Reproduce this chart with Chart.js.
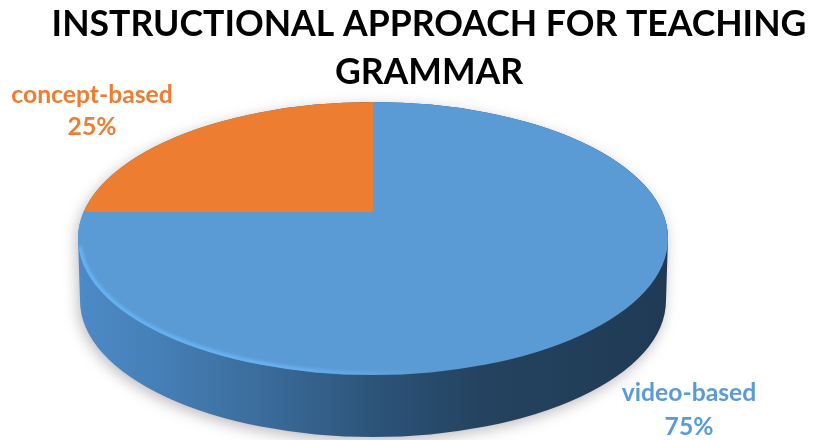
<!DOCTYPE html>
<html>
<head>
<meta charset="utf-8">
<style>html,body{margin:0;padding:0;background:#fff}#w{width:822px;height:440px;position:relative}</style>
<script src="https://cdn.jsdelivr.net/npm/chart.js@4"></script>
</head>
<body>
<div id="w"><canvas id="c" width="822" height="440"></canvas></div>
<script>
const titleLines = ["INSTRUCTIONAL APPROACH FOR TEACHING", "GRAMMAR"];
const categories = ["video-based", "concept-based"];
const seriesValues = [75, 25];
const sliceColors = ["#5b9bd5", "#ed7d31"];

const APEX = {x: 373, y: 212};
const TOP = {x: 373, y: 238.5, rx: 295, ry: 136.5};
const DEPTH = 62;
const LABEL_POS = [{x: 689, y1: 393, y2: 427}, {x: 92, y1: 95, y2: 127}];
const FONT = "Lato, Carlito, 'Open Sans', sans-serif";

const pie3d = {
  id: 'pie3d',
  beforeDatasetsDraw(chart) {
    const ctx = chart.ctx;
    // soft shadow and the side wall
    ctx.save();
    ctx.shadowColor = 'rgba(90,80,90,0.38)';
    ctx.shadowBlur = 14;
    ctx.shadowOffsetX = -2;
    ctx.shadowOffsetY = 4;
    const g = ctx.createLinearGradient(TOP.x - TOP.rx, 0, TOP.x + TOP.rx, 0);
    g.addColorStop(0, '#4d8ac6');
    g.addColorStop(0.14, '#457fb6');
    g.addColorStop(0.32, '#3a6b9a');
    g.addColorStop(0.5, '#2c5479');
    g.addColorStop(0.68, '#244360');
    g.addColorStop(1, '#203a54');
    ctx.fillStyle = g;
    ctx.beginPath();
    ctx.ellipse(TOP.x, TOP.y, TOP.rx, TOP.ry, 0, 0, Math.PI, true);
    ctx.ellipse(TOP.x, TOP.y + DEPTH, TOP.rx - 2, TOP.ry, 0, Math.PI, 0, true);
    ctx.closePath();
    ctx.fill();
    ctx.restore();
    // top face: the library's arcs, flattened and clipped to the top ellipse
    const arc = chart.getDatasetMeta(0).data[0];
    const s = 420 / arc.outerRadius;
    ctx.save();
    ctx.beginPath();
    ctx.ellipse(TOP.x, TOP.y, TOP.rx, TOP.ry, 0, 0, Math.PI * 2);
    ctx.clip();
    ctx.translate(APEX.x, APEX.y);
    ctx.scale(s, s * 0.5);
    ctx.translate(-arc.x, -arc.y);
  },
  afterDatasetsDraw(chart) {
    const ctx = chart.ctx;
    ctx.restore();
    // bright rim on the lower-left edge of the top face
    ctx.save();
    ctx.beginPath();
    ctx.ellipse(TOP.x, TOP.y, TOP.rx, TOP.ry, 0, 0, Math.PI * 2);
    ctx.clip();
    const rim = ctx.createLinearGradient(TOP.x - TOP.rx, 0, TOP.x + 60, 0);
    rim.addColorStop(0, 'rgba(105,180,245,0.95)');
    rim.addColorStop(0.6, 'rgba(105,180,245,0.9)');
    rim.addColorStop(1, 'rgba(105,180,245,0)');
    ctx.strokeStyle = rim;
    ctx.lineWidth = 5;
    ctx.filter = 'blur(1.5px)';
    ctx.beginPath();
    ctx.ellipse(TOP.x, TOP.y, TOP.rx - 1, TOP.ry - 1, 0, Math.PI * 0.98, Math.PI * 0.42, true);
    ctx.stroke();
    ctx.restore();
    // slice labels
    ctx.save();
    ctx.font = "bold 24.7px " + FONT;
    ctx.textAlign = 'center';
    ctx.textBaseline = 'middle';
    const total = seriesValues.reduce((a, b) => a + b, 0);
    categories.forEach((name, i) => {
      const p = LABEL_POS[i];
      ctx.fillStyle = sliceColors[i];
      ctx.fillText(name, p.x, p.y1);
      ctx.fillText(Math.round(seriesValues[i] / total * 100) + '%', p.x, p.y2);
    });
    ctx.restore();
  }
};

new Chart(document.getElementById('c'), {
  type: 'pie',
  data: {
    labels: categories,
    datasets: [{
      data: seriesValues,
      backgroundColor: sliceColors,
      borderWidth: 0,
      clip: false
    }]
  },
  options: {
    responsive: false,
    animation: false,
    events: [],
    layout: {padding: {left: 36}},
    plugins: {
      legend: {display: false},
      tooltip: {enabled: false},
      title: {
        display: true,
        text: titleLines,
        color: '#000',
        font: {family: FONT, size: 35.6, weight: 'bold', lineHeight: 1.36},
        padding: {top: 0, bottom: 4}
      }
    }
  },
  plugins: [pie3d]
});
</script>
</body>
</html>
